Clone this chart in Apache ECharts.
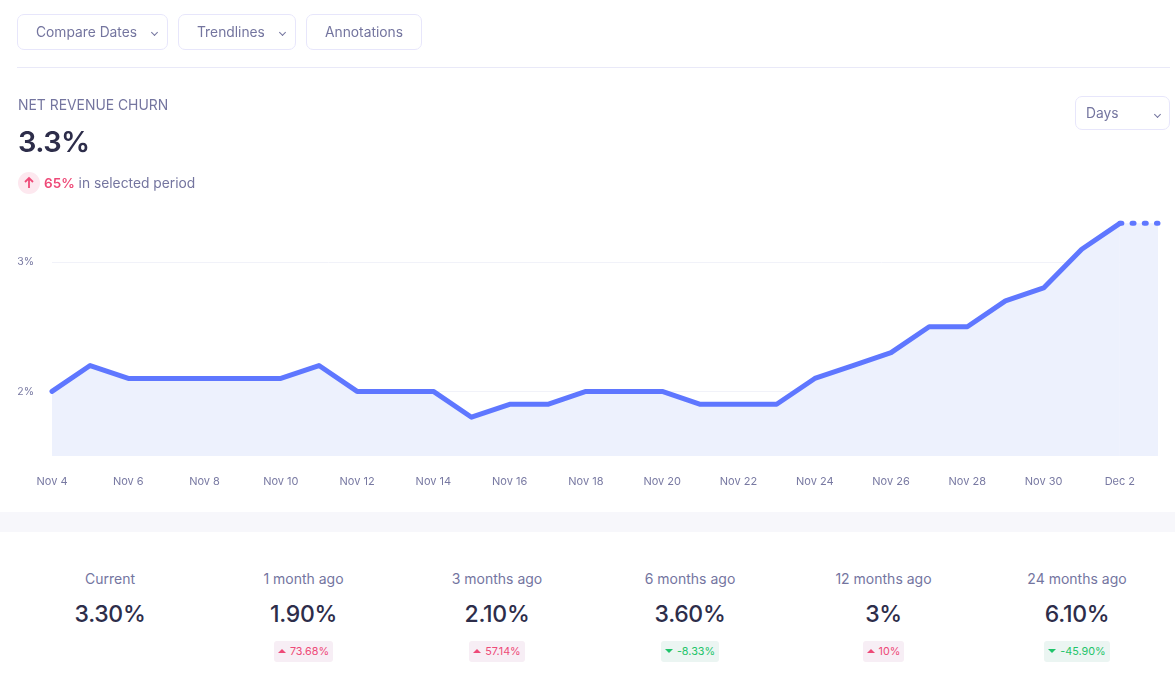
<!DOCTYPE html>
<html>
<head>
<meta charset="utf-8">
<title>Net revenue churn</title>
<script src="https://cdn.jsdelivr.net/npm/echarts@6/dist/echarts.min.js"></script>
<style>
html, body { margin: 0; padding: 0; background: #fff; overflow: hidden; }
body { width: 1175px; height: 687px; position: relative; font-family: Inter, "Noto Sans", sans-serif; color: #74759f; }
#chart { position: absolute; left: 0; top: 0; width: 1175px; height: 510px; }
.btn { position: absolute; top: 14px; height: 34px; line-height: 34px; border: 1px solid #e7e6fb; border-radius: 7px; font-size: 13.8px; box-sizing: content-box; background: #fff; }
.btn span { position: absolute; top: 0; white-space: nowrap; }
.chev { position: absolute; width: 4px; height: 4px; border-right: 1.3px solid #74759f; border-bottom: 1.3px solid #74759f; transform: rotate(45deg); }
#rule { position: absolute; left: 17px; top: 67px; width: 1153px; height: 1px; background: #e9e9f8; }
#title { position: absolute; left: 18px; top: 96px; font-size: 13.9px; line-height: 18px; }
#big { position: absolute; left: 18px; top: 122px; font-size: 29px; line-height: 40px; font-weight: 600; letter-spacing: -0.6px; color: #2d2d4a; }
#sub { position: absolute; left: 44px; top: 174px; font-size: 13.8px; line-height: 18px; white-space: nowrap; }
#sub b { color: #ee4a78; font-weight: 600; font-size: 13.5px; }
#upicon { position: absolute; left: 18px; top: 172px; width: 22px; height: 22px; border-radius: 11px; background: #fde8ef; }
#band { position: absolute; left: 0; top: 512px; width: 1175px; height: 20px; background: #f7f7fb; }
.card { position: absolute; top: 570px; width: 190px; margin-left: -95px; text-align: center; }
.card .lbl { font-size: 14px; line-height: 18px; }
.card .val { font-size: 23px; line-height: 30px; margin-top: 11px; font-weight: 500; letter-spacing: -0.3px; color: #2d2d4a; }
.card .delta { display: inline-block; margin-top: 12px; height: 21px; line-height: 21px; padding: 0 4px; border-radius: 3px; font-size: 10.8px; white-space: nowrap; }
.delta.up { background: #f7eef5; color: #ee4a78; }
.delta.down { background: #ebf5f2; color: #1fc46a; }
.tri { display: inline-block; width: 0; height: 0; margin-right: 4px; border-left: 4px solid transparent; border-right: 4px solid transparent; vertical-align: 2px; }
.up .tri { border-bottom: 4px solid #ee4a78; }
.down .tri { border-top: 4px solid #1fc46a; }
</style>
</head>
<body>
<div id="chart"></div>

<div class="btn" style="left:17px;width:149px"><span style="left:18px">Compare Dates</span><i class="chev" style="left:134px;top:15px"></i></div>
<div class="btn" style="left:178px;width:116px"><span style="left:18px">Trendlines</span><i class="chev" style="left:101px;top:15px"></i></div>
<div class="btn" style="left:306px;width:114px"><span style="left:18px">Annotations</span></div>
<div id="rule"></div>

<div id="title">NET REVENUE CHURN</div>
<div id="big">3.3%</div>
<div id="upicon"><svg width="22" height="22" viewBox="0 0 22 22"><path d="M11 16V6.5M7 10l4-4 4 4" fill="none" stroke="#ee4a78" stroke-width="1.8"/></svg></div>
<div id="sub"><b>65%</b> in selected period</div>

<div class="btn" style="left:1075px;top:96px;width:93px;height:32px;line-height:32px"><span style="left:10px">Days</span><i class="chev" style="left:79px;top:15px"></i></div>

<div id="band"></div>
<div id="cards"></div>

<script>
var days = ["Nov 4", "Nov 5", "Nov 6", "Nov 7", "Nov 8", "Nov 9", "Nov 10", "Nov 11", "Nov 12", "Nov 13",
    "Nov 14", "Nov 15", "Nov 16", "Nov 17", "Nov 18", "Nov 19", "Nov 20", "Nov 21", "Nov 22", "Nov 23",
    "Nov 24", "Nov 25", "Nov 26", "Nov 27", "Nov 28", "Nov 29", "Nov 30", "Dec 1", "Dec 2", "Dec 3"];
var churn = [2.0, 2.2, 2.1, 2.1, 2.1, 2.1, 2.1, 2.2, 2.0, 2.0,
    2.0, 1.8, 1.9, 1.9, 2.0, 2.0, 2.0, 1.9, 1.9, 1.9,
    2.1, 2.2, 2.3, 2.5, 2.5, 2.7, 2.8, 3.1, 3.3];
var partial = [3.3, 3.3];
var yTicks = [2, 3];

var periods = ["Current", "1 month ago", "3 months ago", "6 months ago", "12 months ago", "24 months ago"];
var periodValues = ["3.30%", "1.90%", "2.10%", "3.60%", "3%", "6.10%"];
var periodChanges = [null, "73.68%", "57.14%", "-8.33%", "10%", "-45.90%"];
var cardCenters = [110, 303.5, 497, 690, 883.5, 1077];

// the last day is still running, so it gets its own dotted piece
var solidData = churn.concat([null]);
var dottedData = days.map(function (d, i)
{
    var offset = days.length - partial.length;
    return i >= offset ? partial[i - offset] : null;
});

var areaColor = "#edf1fd";
var lineColor = "#5f77ff";
var labelColor = "#7879a2";

var chart = echarts.init(document.getElementById("chart"));
chart.setOption({
    animation: false,
    grid: { left: 52, right: 17, top: 197.5, height: 258.5 },
    xAxis: {
        type: "category",
        data: days,
        boundaryGap: false,
        axisLine: { show: false },
        axisTick: { show: false },
        axisLabel: {
            interval: 1,
            color: labelColor,
            fontFamily: "Inter",
            fontSize: 11,
            margin: 20
        }
    },
    yAxis: {
        type: "value",
        min: 1.5,
        max: 3.5,
        axisLine: { show: false },
        axisTick: { show: false, customValues: yTicks },
        axisLabel: {
            customValues: yTicks,
            color: labelColor,
            fontFamily: "Inter",
            fontSize: 10.5,
            margin: 18,
            formatter: "{value}%"
        },
        splitLine: { show: true, lineStyle: { color: "#f1f2f9", width: 1 } }
    },
    series: [
        {
            type: "line",
            data: solidData,
            symbol: "none",
            clip: false,
            lineStyle: { color: lineColor, width: 5, cap: "round", join: "round" },
            areaStyle: { color: areaColor, opacity: 1, origin: "start" },
            z: 3
        },
        {
            type: "line",
            data: dottedData,
            symbol: "none",
            clip: false,
            lineStyle: { color: lineColor, width: 5, cap: "round", type: [2, 10.2] },
            areaStyle: { color: areaColor, opacity: 1, origin: "start" },
            z: 3
        }
    ]
});

var cards = document.getElementById("cards");
periods.forEach(function (name, i)
{
    var change = periodChanges[i];
    var html = '<div class="lbl">' + name + '</div><div class="val">' + periodValues[i] + '</div>';
    if (change)
    {
        var dir = change.charAt(0) === "-" ? "down" : "up";
        html += '<div class="delta ' + dir + '"><i class="tri"></i>' + change + '</div>';
    }
    var el = document.createElement("div");
    el.className = "card";
    el.style.left = cardCenters[i] + "px";
    el.innerHTML = html;
    cards.appendChild(el);
});
</script>
</body>
</html>
